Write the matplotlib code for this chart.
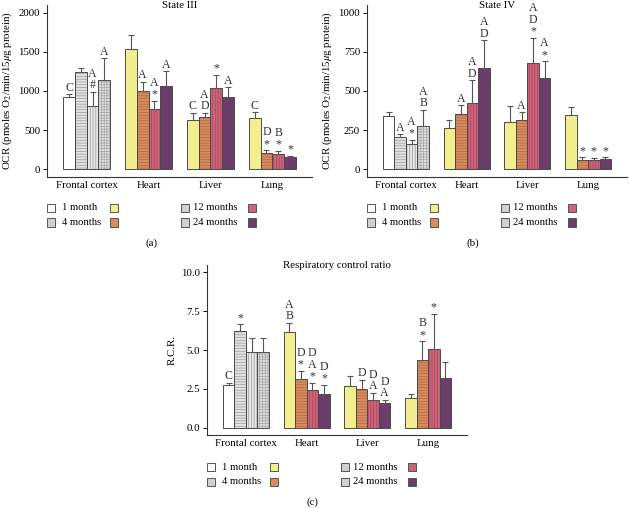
import matplotlib
matplotlib.use("Agg")
import matplotlib.pyplot as plt
from matplotlib.patches import Rectangle
import numpy as np

plt.rcParams['font.family'] = ['Liberation Serif', 'DejaVu Serif']
plt.rcParams['mathtext.fontset'] = 'stix'
plt.rcParams['hatch.linewidth'] = 0.5

tissues = ["Frontal cortex", "Heart", "Liver", "Lung"]
ages = ["1 month", "4 months", "12 months", "24 months"]

# State III
s3_vals = [[920, 1240, 810, 1140],
           [1540, 1000, 775, 1070],
           [630, 670, 1040, 920],
           [660, 210, 195, 155]]
s3_err = [[40, 50, 180, 280],
          [180, 120, 95, 180],
          [90, 50, 170, 130],
          [70, 30, 40, 15]]
s3_ann = [["C", "", "A\n#", "A"],
          ["", "A", "A\n*", "A"],
          ["C", "A\nD", "*", "A"],
          ["C", "D\n*", "B\n*", "*"]]

# State IV
s4_vals = [[340, 205, 160, 275],
           [265, 350, 420, 645],
           [300, 315, 680, 585],
           [345, 60, 55, 62]]
s4_err = [[25, 20, 25, 105],
          [50, 60, 150, 180],
          [105, 50, 160, 105],
          [55, 15, 15, 12]]
s4_ann = [["", "A", "A\n*", "A\nB"],
          ["", "A", "A\nD", "A\nD"],
          ["", "A", "A\nD\n*", "A\n*"],
          ["", "*", "*", "*"]]

# Respiratory control ratio
rcr_vals = [[2.75, 6.2, 4.9, 4.85],
            [6.15, 3.15, 2.45, 2.2],
            [2.7, 2.5, 1.8, 1.6],
            [1.95, 4.35, 5.05, 3.2]]
rcr_err = [[0.15, 0.45, 0.9, 0.95],
           [0.6, 0.5, 0.45, 0.55],
           [0.65, 0.6, 0.45, 0.2],
           [0.2, 1.2, 2.25, 1.0]]
rcr_ann = [["C", "*", "", ""],
           ["A\nB", "D\n*", "D\nA\n*", "D\n*"],
           ["", "D", "D\nA", "D\nA"],
           ["", "B\n*", "*", ""]]

# styles: (face, hatch, hatchcolor) for gray (frontal cortex) and colored (others)
gray_styles = [("#ffffff", None, None),
               ("#e2e2e2", "------", "#9a9a9a"),
               ("#e6e6e6", "||||||", "#9a9a9a"),
               ("#e0e0e0", "++++++", "#a5a5a5")]
color_styles = [("#f4ef8e", None, None),
                ("#d98c60", "------", "#b0653c"),
                ("#cc6479", "||||||", "#a84560"),
                ("#6b3d6b", None, None)]

W, H = 629, 509
fig = plt.figure(figsize=(W / 100, H / 100), dpi=100)

FS = 7.8
LFS = 7.6
AFS = 8.6
BW = 0.19
EDGE = "#4a4a4a"


def px_ax(left, right, top, bottom):
    return fig.add_axes([left / W, 1 - bottom / H, (right - left) / W, (bottom - top) / H])


def draw_panel(ax, vals, errs, anns, ylim, yticks, yticklabels, title, ylabel):
    for g in range(4):
        styles = gray_styles if g == 0 else color_styles
        for i in range(4):
            x = g + (i - 1.5) * BW
            v = vals[g][i]
            face, hatch, hc = styles[i]
            if hatch:
                ax.bar(x, v, BW, color=face, edgecolor=hc, hatch=hatch, linewidth=0, zorder=2)
                ax.bar(x, v, BW, fill=False, edgecolor=EDGE, linewidth=0.7, zorder=3)
            else:
                ax.bar(x, v, BW, color=face, edgecolor=EDGE, linewidth=0.7, zorder=3)
            e = errs[g][i]
            ax.errorbar(x, v, yerr=[[0], [e]], fmt="none", ecolor="#555555",
                        elinewidth=0.8, capsize=2.2, capthick=0.8, zorder=4)
            if anns[g][i]:
                ax.annotate(anns[g][i], (x, v + e), xytext=(0, 0.3), textcoords="offset points",
                            ha="center", va="bottom", fontsize=AFS, linespacing=0.95,
                            color="#333333", zorder=5)
    ax.set_xlim(-0.64, 3.64)
    ax.set_ylim(*ylim)
    ax.set_yticks(yticks)
    ax.set_yticklabels(yticklabels, fontsize=FS)
    ax.set_xticks(range(4))
    ax.set_xticklabels(tissues, fontsize=FS)
    ax.tick_params(axis="x", length=0, pad=3)
    ax.tick_params(axis="y", length=3, width=0.7, pad=2, direction="out")
    for s in ["top", "right"]:
        ax.spines[s].set_visible(False)
    for s in ["left", "bottom"]:
        ax.spines[s].set_linewidth(0.8)
        ax.spines[s].set_color("#333333")
    ax.text(0.5, 1.0, title, transform=ax.transAxes, ha="center", va="center", fontsize=FS)
    if ylabel:
        ax.set_ylabel(ylabel, fontsize=FS, labelpad=3)


def draw_legend(spine_x, row1_y):
    order = [[0, 2], [1, 3]]
    # (gray box offset, text offset, colour box offset) relative to the y spine
    cols = [(4, 15, 67), (138, 146, 205)]
    sz = 8
    for r in range(2):
        y = row1_y + r * 14.5
        for c, (bo, to, co) in enumerate(cols):
            idx = order[r][c]
            face = gray_styles[idx][0]
            if idx > 0:
                face = "#d0d0d0"
            bx = spine_x + bo
            fig.add_artist(Rectangle(((bx - sz / 2) / W, 1 - (y + sz / 2) / H), sz / W, sz / H,
                                     transform=fig.transFigure, facecolor=face,
                                     edgecolor="#555555", linewidth=0.7))
            fig.text((spine_x + to) / W, 1 - y / H, ages[idx], fontsize=LFS,
                     ha="left", va="center")
            cface = color_styles[idx][0]
            cx = spine_x + co
            fig.add_artist(Rectangle(((cx - sz / 2) / W, 1 - (y + sz / 2) / H), sz / W, sz / H,
                                     transform=fig.transFigure, facecolor=cface,
                                     edgecolor="#555555", linewidth=0.7))


# Panel (a)
axa = px_ax(47, 312, 5, 177)
draw_panel(axa, s3_vals, s3_err, s3_ann, (-100, 2100), [0, 500, 1000, 1500, 2000],
           ["0", "500", "1000", "1500", "2000"], "State III",
           r"OCR (pmoles O$_2$/min/15$\mu$g protein)")
draw_legend(47, 208)
fig.text(152 / W, 1 - 243 / H, "(a)", fontsize=FS, ha="center", va="center")

# Panel (b)
axb = px_ax(367, 627, 5, 177)
draw_panel(axb, s4_vals, s4_err, s4_ann, (-51, 1051), [0, 250, 500, 750, 1000],
           ["0", "250", "500", "750", "1000"], "State IV",
           r"OCR (pmoles O$_2$/min/15$\mu$g protein)")
draw_legend(367, 208)
fig.text(473 / W, 1 - 243 / H, "(b)", fontsize=FS, ha="center", va="center")

# Panel (c)
axc = px_ax(207, 467, 265, 435)
draw_panel(axc, rcr_vals, rcr_err, rcr_ann, (-0.45, 10.45), [0, 2.5, 5, 7.5, 10],
           ["0.0", "2.5", "5.0", "7.5", "10.0"], "Respiratory control ratio", "R.C.R.")
draw_legend(207, 467)
fig.text(312 / W, 1 - 502 / H, "(c)", fontsize=FS, ha="center", va="center")

fig.savefig("out.png", dpi=100)
